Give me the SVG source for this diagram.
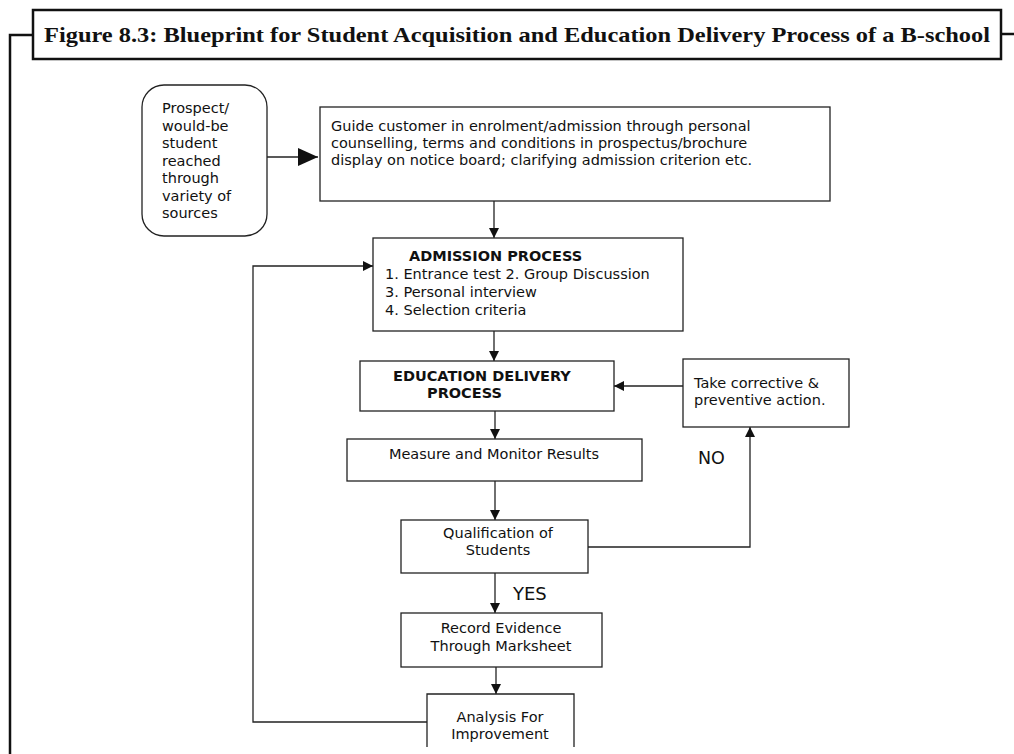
<svg xmlns="http://www.w3.org/2000/svg" width="1014" height="754" viewBox="0 0 1014 754">
<defs>
<style>
.t{font-family:"DejaVu Sans",Verdana,sans-serif;font-size:14.5px;fill:#111}
.b{font-weight:bold}
.box{fill:#fff;stroke:#222;stroke-width:1.3}
.ln{fill:none;stroke:#222;stroke-width:1.3}
.frame{fill:none;stroke:#111;stroke-width:2.5}
.title{font-family:"Liberation Serif","Times New Roman",serif;font-weight:bold;font-size:22px;fill:#111}
</style>
<marker id="ah" markerWidth="10" markerHeight="10" refX="10" refY="5" orient="auto" markerUnits="userSpaceOnUse">
<path d="M0,0 L10,5 L0,10 Z" fill="#111"/>
</marker>
<marker id="ahL" markerWidth="20" markerHeight="18" refX="20" refY="9" orient="auto" markerUnits="userSpaceOnUse">
<path d="M0,0 L20,9 L0,18 Z" fill="#111"/>
</marker>
</defs>
<rect width="1014" height="754" fill="#fff"/>
<g id="frame">
<path class="frame" d="M10,754 L10,35 L33,35"/>
<path class="frame" d="M1001,34 L1014,34"/>
<rect class="frame" x="33" y="10" width="968" height="49" fill="#fff"/>
<text class="title" x="44" y="42" textLength="946" lengthAdjust="spacingAndGlyphs">Figure 8.3: Blueprint for Student Acquisition and Education Delivery Process of a B-school</text>
</g>
<g id="connectors">
<line class="ln" x1="267" y1="157" x2="318" y2="157" marker-end="url(#ahL)"/>
<line class="ln" x1="494" y1="201" x2="494" y2="238" marker-end="url(#ah)"/>
<line class="ln" x1="494" y1="331" x2="494" y2="361" marker-end="url(#ah)"/>
<line class="ln" x1="683" y1="386" x2="614" y2="386" marker-end="url(#ah)"/>
<line class="ln" x1="495" y1="411" x2="495" y2="439" marker-end="url(#ah)"/>
<line class="ln" x1="495" y1="481" x2="495" y2="520" marker-end="url(#ah)"/>
<polyline class="ln" points="588,547 750,547 750,427" marker-end="url(#ah)"/>
<line class="ln" x1="495" y1="573" x2="495" y2="613" marker-end="url(#ah)"/>
<line class="ln" x1="496" y1="667" x2="496" y2="694" marker-end="url(#ah)"/>
<polyline class="ln" points="427,722 253,722 253,266 373,266" marker-end="url(#ah)"/>
<text class="t" x="698" y="464" style="font-size:17.5px">NO</text>
<text class="t" x="513" y="600" style="font-size:18px">YES</text>
</g>
<g id="prospect">
<rect class="box" x="142" y="85" width="125" height="151" rx="22" ry="22" stroke-width="1.6"/>
<text class="t" x="162" y="113">Prospect/</text>
<text class="t" x="162" y="130.5">would-be</text>
<text class="t" x="162" y="148">student</text>
<text class="t" x="162" y="165.5">reached</text>
<text class="t" x="162" y="183">through</text>
<text class="t" x="162" y="200.5">variety of</text>
<text class="t" x="162" y="218">sources</text>
</g>
<g id="guide">
<rect class="box" x="320" y="107" width="510" height="94"/>
<text class="t" x="331" y="131">Guide customer in enrolment/admission through personal</text>
<text class="t" x="331" y="148">counselling, terms and conditions in prospectus/brochure</text>
<text class="t" x="331" y="165">display on notice board; clarifying admission criterion etc.</text>
</g>
<g id="admission">
<rect class="box" x="373" y="238" width="310" height="93"/>
<text class="t b" x="409" y="261">ADMISSION PROCESS</text>
<text class="t" x="385" y="279">1. Entrance test 2. Group Discussion</text>
<text class="t" x="385" y="297">3. Personal interview</text>
<text class="t" x="385" y="315">4. Selection criteria</text>
</g>
<g id="education">
<rect class="box" x="360" y="361" width="254" height="50"/>
<text class="t b" x="393" y="381">EDUCATION DELIVERY</text>
<text class="t b" x="427" y="398">PROCESS</text>
</g>
<g id="corrective">
<rect class="box" x="683" y="359" width="166" height="68"/>
<text class="t" x="694" y="388">Take corrective &amp;</text>
<text class="t" x="694" y="405">preventive action.</text>
</g>
<g id="measure">
<rect class="box" x="347" y="439" width="295" height="42"/>
<text class="t" x="494" y="459" text-anchor="middle">Measure and Monitor Results</text>
</g>
<g id="qualification">
<rect class="box" x="401" y="520" width="187" height="53"/>
<text class="t" x="498" y="538" text-anchor="middle">Qualification of</text>
<text class="t" x="498" y="555" text-anchor="middle">Students</text>
</g>
<g id="record">
<rect class="box" x="401" y="613" width="201" height="54"/>
<text class="t" x="501" y="633" text-anchor="middle">Record Evidence</text>
<text class="t" x="501" y="651" text-anchor="middle">Through Marksheet</text>
</g>
<g id="analysis">
<path class="box" d="M427,747 L427,694 L574,694 L574,747"/>
<text class="t" x="500" y="722" text-anchor="middle">Analysis For</text>
<text class="t" x="500" y="739" text-anchor="middle">Improvement</text>
</g>
</svg>
